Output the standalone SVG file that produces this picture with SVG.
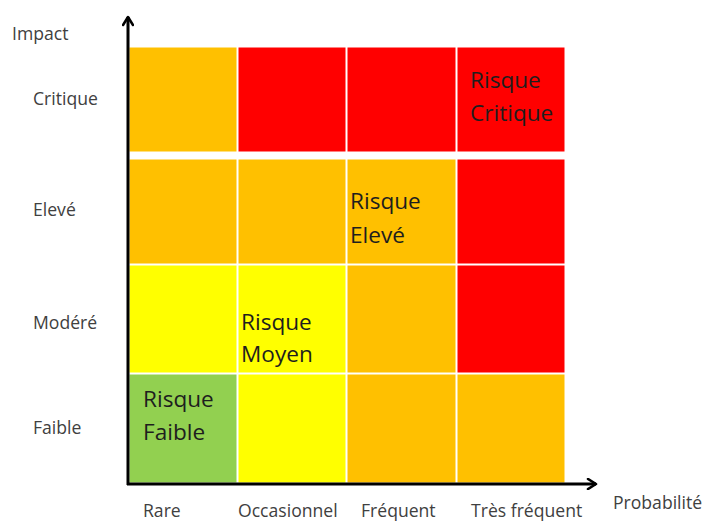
<svg xmlns="http://www.w3.org/2000/svg" width="707" height="522" viewBox="0 0 707 522">
<style>
.ax{font-family:"Open Sans","Noto Sans",sans-serif;font-size:17.6px;fill:#404040}
.cl{font-family:"Open Sans","Noto Sans",sans-serif;font-size:22.6px;fill:#1e1e1e}
.c{stroke:#ffffff;stroke-width:1}
.o{fill:#FFC000}.r{fill:#FF0000}.y{fill:#FFFF00}.g{fill:#92D050}
.axis{stroke:#000;stroke-width:3;fill:none}
</style>
<defs>
<marker id="arr" viewBox="0 0 12 12" refX="10" refY="6" markerWidth="12" markerHeight="12" markerUnits="userSpaceOnUse" orient="auto">
<path d="M2,1 L10,6 L2,11" fill="none" stroke="#000" stroke-width="2.6" stroke-linecap="round" stroke-linejoin="round"/>
</marker>
</defs>
<rect width="707" height="522" fill="#fff"/>
<g id="row-critique">
<rect class="c o" x="129" y="47" width="108" height="105"/>
<rect class="c r" x="238" y="47" width="108" height="105"/>
<rect class="c r" x="347" y="47" width="109" height="105"/>
<rect class="c r" x="457" y="47" width="108" height="105"/>
</g>
<g id="row-eleve">
<rect class="c o" x="129" y="159" width="108" height="105"/>
<rect class="c o" x="238" y="159" width="108" height="105"/>
<rect class="c o" x="347" y="159" width="109" height="105"/>
<rect class="c r" x="457" y="159" width="108" height="105"/>
</g>
<g id="row-modere">
<rect class="c y" x="129" y="265" width="108" height="108"/>
<rect class="c y" x="238" y="265" width="108" height="108"/>
<rect class="c o" x="347" y="265" width="109" height="108"/>
<rect class="c r" x="457" y="265" width="108" height="108"/>
</g>
<g id="row-faible">
<rect class="c g" x="129" y="374" width="108" height="109"/>
<rect class="c y" x="238" y="374" width="108" height="109"/>
<rect class="c o" x="347" y="374" width="109" height="109"/>
<rect class="c o" x="457" y="374" width="108" height="109"/>
</g>
<g id="label-critique"><text class="cl" x="470" y="88">Risque</text><text class="cl" x="470" y="121">Critique</text></g>
<g id="label-eleve"><text class="cl" x="350" y="209">Risque</text><text class="cl" x="350" y="243">Elevé</text></g>
<g id="label-moyen"><text class="cl" x="241" y="330">Risque</text><text class="cl" x="241" y="362">Moyen</text></g>
<g id="label-faible"><text class="cl" x="143" y="407">Risque</text><text class="cl" x="143" y="440">Faible</text></g>
<g id="connectors">
<line class="axis" x1="128" y1="485" x2="128" y2="17" marker-end="url(#arr)"/>
<line class="axis" x1="127" y1="484" x2="596" y2="484" marker-end="url(#arr)"/>
</g>
<g id="axis-labels">
<text class="ax" x="12" y="40">Impact</text>
<text class="ax" x="33" y="105">Critique</text>
<text class="ax" x="33" y="216">Elevé</text>
<text class="ax" x="33" y="329">Modéré</text>
<text class="ax" x="33" y="434">Faible</text>
<text class="ax" x="143" y="517">Rare</text>
<text class="ax" x="238" y="517">Occasionnel</text>
<text class="ax" x="361" y="517">Fréquent</text>
<text class="ax" x="471" y="517">Très fréquent</text>
<text class="ax" x="613" y="509">Probabilité</text>
</g>
</svg>
